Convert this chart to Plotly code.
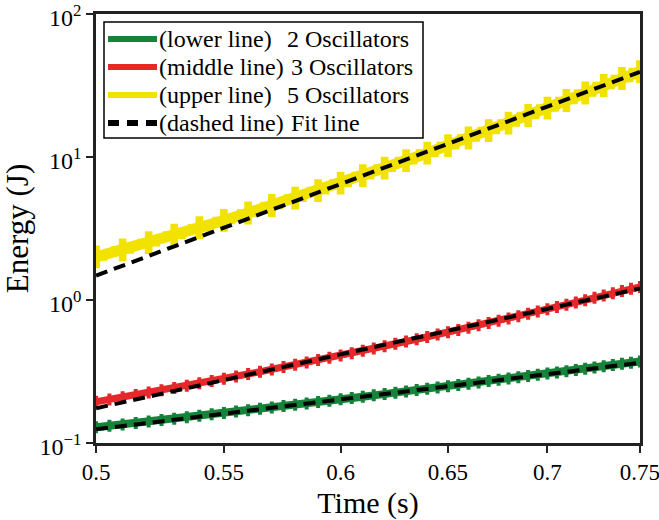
import plotly.graph_objects as go

# ---- data ----
t_fine = [0.500, 0.505, 0.510, 0.515, 0.520, 0.525, 0.530, 0.535, 0.540, 0.545,
          0.550, 0.555, 0.560, 0.565, 0.570, 0.575, 0.580, 0.585, 0.590, 0.595,
          0.600, 0.605, 0.610, 0.615, 0.620, 0.625, 0.630, 0.635, 0.640, 0.645,
          0.650, 0.655, 0.660, 0.665, 0.670, 0.675, 0.680, 0.685, 0.690, 0.695,
          0.700, 0.705, 0.710, 0.715, 0.720, 0.725, 0.730, 0.735, 0.740, 0.745,
          0.750]
t_coarse = [0.50, 0.51, 0.52, 0.53, 0.54, 0.55, 0.56, 0.57, 0.58, 0.59, 0.60,
            0.61, 0.62, 0.63, 0.64, 0.65, 0.66, 0.67, 0.68, 0.69, 0.70, 0.71,
            0.72, 0.73, 0.74, 0.75]

energy_2osc = [0.1288, 0.1318, 0.1349, 0.1381, 0.1413, 0.1446, 0.1480, 0.1514, 0.1549, 0.1585,
               0.1621, 0.1658, 0.1695, 0.1733, 0.1772, 0.1811, 0.1851, 0.1892, 0.1933, 0.1976,
               0.2019, 0.2062, 0.2107, 0.2153, 0.2199, 0.2246, 0.2294, 0.2343, 0.2392, 0.2443,
               0.2494, 0.2546, 0.2600, 0.2653, 0.2708, 0.2764, 0.2820, 0.2877, 0.2936, 0.2995,
               0.3056, 0.3117, 0.3179, 0.3243, 0.3308, 0.3373, 0.3440, 0.3508, 0.3577, 0.3647,
               0.3710]
energy_3osc = [0.1941, 0.2014, 0.2090, 0.2169, 0.2252, 0.2336, 0.2425, 0.2517, 0.2613, 0.2712,
               0.2815, 0.2921, 0.3034, 0.3149, 0.3268, 0.3393, 0.3524, 0.3658, 0.3798, 0.3941,
               0.4093, 0.4248, 0.4410, 0.4578, 0.4752, 0.4933, 0.5121, 0.5315, 0.5517, 0.5727,
               0.5943, 0.6169, 0.6403, 0.6645, 0.6896, 0.7157, 0.7427, 0.7706, 0.7998, 0.8298,
               0.8610, 0.8934, 0.9268, 0.9616, 0.9975, 1.035, 1.073, 1.113, 1.155, 1.198,
               1.235]
energy_5osc = [2.00, 2.24, 2.52, 2.84, 3.20, 3.60, 4.06, 4.58, 5.16, 5.82, 6.57,
               7.41, 8.36, 9.44, 10.65, 12.02, 13.58, 15.31, 17.28, 19.51, 22.00,
               24.85, 28.04, 31.62, 35.4, 39.6]

fit_t = [0.5, 0.75]
fit_2osc = [0.1246, 0.3637]
fit_3osc = [0.175, 1.203]
fit_5osc = [1.48, 39.4]

x_ticks = [0.5, 0.55, 0.6, 0.65, 0.7, 0.75]
x_ticktext = ["0.5", "0.55", "0.6", "0.65", "0.7", "0.75"]
y_ticks = [0.1, 1, 10, 100]
y_ticktext = ["10<sup>\u22121</sup>", "10<sup>0</sup>", "10<sup>1</sup>", "10<sup>2</sup>"]

legend_left = ["(lower line)", "(middle line)", "(upper line)", "(dashed line)"]
legend_right = ["2 Oscillators", "3 Oscillators", "5 Oscillators", "Fit line"]

GREEN = "#15843a"
RED = "#e5282a"
YELLOW = "#f2e200"
AXC = "#222222"
FONT = '"Liberation Serif", "Times New Roman", serif'

W, H = 659, 520
L, R, T, B = 96, 640, 14, 443

fig = go.Figure()

series = [
    (t_fine, energy_2osc, GREEN, 8, 10),
    (t_fine, energy_3osc, RED, 7, 10),
    (t_coarse, energy_5osc, YELLOW, 11, 19),
]
for xs, ys, col, lw, ms in series:
    fig.add_trace(go.Scatter(
        x=xs, y=ys, mode="lines+markers",
        line=dict(color=col, width=lw),
        marker=dict(symbol="cross", size=ms, color=col, line=dict(width=0)),
        showlegend=False, hoverinfo="skip"))

for ys in (fit_2osc, fit_3osc, fit_5osc):
    fig.add_trace(go.Scatter(
        x=fit_t, y=ys, mode="lines",
        line=dict(color="black", width=4, dash="12px,7px"),
        showlegend=False, hoverinfo="skip"))


def px(xs):
    return (xs - L) / (R - L)


def py(ys):
    return (B - ys) / (B - T)


# manual legend (box, samples, texts), positions in screen pixels
shapes = [dict(type="rect", xref="paper", yref="paper",
               x0=px(104), x1=px(423), y0=py(22), y1=py(138),
               line=dict(color="black", width=1.5), fillcolor="white", layer="above")]
row_y = [39, 67, 95, 123]
sample_cols = [GREEN, RED, YELLOW, "black"]
annotations = []
for i, yy in enumerate(row_y):
    ln = dict(color=sample_cols[i], width=6)
    if i == 3:
        ln["dash"] = "11px,8px"
    shapes.append(dict(type="line", xref="paper", yref="paper",
                       x0=px(108), x1=px(157), y0=py(yy), y1=py(yy),
                       line=ln, layer="above"))
    annotations.append(dict(
        xref="paper", yref="paper", x=px(158), y=py(yy),
        xanchor="left", yanchor="middle", showarrow=False, borderpad=0,
        text=legend_left[i], font=dict(family=FONT, size=24, color="black")))
    annotations.append(dict(
        xref="paper", yref="paper", x=px(286 if i in (0, 2) else 290), y=py(yy),
        xanchor="left", yanchor="middle", showarrow=False, borderpad=0,
        text=legend_right[i], font=dict(family=FONT, size=24, color="black")))

fig.update_layout(
    width=W, height=H,
    margin=dict(l=L, r=W - R, t=T, b=H - B, autoexpand=False),
    paper_bgcolor="white", plot_bgcolor="white",
    font=dict(family=FONT, size=24, color="black"),
    shapes=shapes, annotations=annotations,
    xaxis=dict(
        type="log", range=[-0.30105, -0.12492],
        tickvals=x_ticks, ticktext=x_ticktext,
        ticks="outside", ticklen=7, tickwidth=2, tickcolor=AXC,
        ticklabeloverflow="allow", automargin=False,
        showline=True, linecolor=AXC, linewidth=2.5, mirror=True,
        showgrid=False, zeroline=False,
        tickfont=dict(family=FONT, size=23, color="black"),
        title=dict(text="Time (s)", font=dict(family=FONT, size=30, color="black"), standoff=8),
    ),
    yaxis=dict(
        type="log", range=[-1.0002, 2.0002],
        tickvals=y_ticks, ticktext=y_ticktext,
        ticks="outside", ticklen=7, tickwidth=2, tickcolor=AXC,
        ticklabeloverflow="allow", automargin=False, ticklabelshift=4,
        showline=True, linecolor=AXC, linewidth=2.5, mirror=True,
        showgrid=False, zeroline=False,
        tickfont=dict(family=FONT, size=24, color="black"),
        title=dict(text="Energy (J)", font=dict(family=FONT, size=31, color="black"), standoff=2),
    ),
)

fig.write_html(
    "out.html",
    config={"displayModeBar": False},
    post_script="document.body.style.margin='0';document.body.style.overflow='hidden';",
)
